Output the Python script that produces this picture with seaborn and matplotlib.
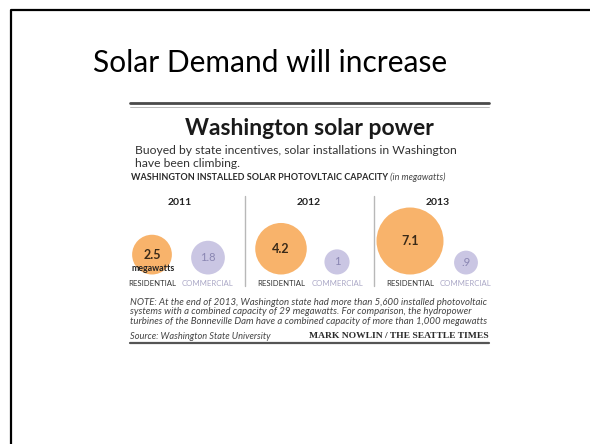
"""
Slide: Solar Demand will increase
Recreates the Seattle Times "Washington solar power" bubble graphic.
"""

import numpy as np
import pandas as pd
import matplotlib
matplotlib.use("Agg")
import matplotlib.pyplot as plt
import seaborn as sns

sns.set_theme(style="white")
plt.rcParams["font.family"] = ["Lato", "DejaVu Sans"]

# ============================================================
# DATA
# ============================================================
years = ["2011", "2012", "2013"]
residential = [2.5, 4.2, 7.1]
commercial = [1.8, 1.0, 0.9]
residential_labels = ["2.5", "4.2", "7.1"]
commercial_labels = ["1.8", "1", ".9"]

slide_title = "Solar Demand will increase"
graphic_title = "Washington solar power"
intro = ["Buoyed by state incentives, solar installations in Washington",
         "have been climbing."]
caps_line = "WASHINGTON INSTALLED SOLAR PHOTOVLTAIC CAPACITY"
caps_unit = " (in megawatts)"
note = ["NOTE: At the end of 2013, Washington state had more than 5,600 installed photovoltaic",
        "systems with a combined capacity of 29 megawatts. For comparison, the hydropower",
        "turbines of the Bonneville Dam have a combined capacity of more than 1,000 megawatts"]
source = "Source: Washington State University"
credit = "MARK NOWLIN / THE SEATTLE TIMES"

# ============================================================
# LAYOUT (pixel coordinates, y down)
# ============================================================
W, H, DPI = 590, 444, 100
G_LEFT, G_RIGHT = 130, 489
group_x0, group_step, pair_offset = 180, 129, 28
baseline = 274.5
r_max = 33.5

ORANGE = "#f8b36b"
LAVENDER = "#cac6e3"

df = pd.DataFrame({
    "year": years * 2,
    "type": ["Residential"] * 3 + ["Commercial"] * 3,
    "value": residential + commercial,
    "label": residential_labels + commercial_labels,
})
df["group"] = list(range(len(years))) * 2
df["px"] = group_x0 + group_step * df["group"] + np.where(df["type"] == "Residential", -pair_offset, pair_offset)
vmax = max(residential + commercial)
df["radius"] = r_max * np.sqrt(df["value"] / vmax)
df["py"] = baseline - df["radius"]

fig = plt.figure(figsize=(W / DPI, H / DPI), dpi=DPI)
ax = fig.add_axes([0, 0, 1, 1])
ax.set_xlim(0, W)
ax.set_ylim(H, 0)
ax.axis("off")

# slide frame
ax.plot([11, 11, W], [H, 10, 10], color="black", lw=1.6, solid_capstyle="butt")

ax.text(270, 63, slide_title, ha="center", va="center", fontsize=21.5, color="black")

# rules
ax.plot([G_LEFT, G_RIGHT], [103, 103], color="#4a4a4a", lw=2.0)
ax.plot([G_LEFT, G_RIGHT], [107, 107], color="#b0b0b0", lw=0.6)
ax.plot([G_LEFT, G_RIGHT], [343, 343], color="#555555", lw=1.6)

ax.text(309, 128, graphic_title, ha="center", va="center", fontsize=16.5,
        fontweight="bold", color="#1a1a1a")
for i, line in enumerate(intro):
    ax.text(G_LEFT + 5, 150 + 13 * i, line, ha="left", va="center", fontsize=8.7, color="#333333")

t = ax.text(G_LEFT + 1, 177, caps_line, ha="left", va="center", fontsize=6.5,
            fontweight="bold", color="#2a2a2a")
fig.canvas.draw()
bb = t.get_window_extent().transformed(ax.transData.inverted())
ax.text(bb.x1, 177, caps_unit, ha="left", va="center", fontsize=6.5,
        style="italic", color="#444444")

# year headers and separators
for i, y in enumerate(years):
    ax.text(group_x0 + group_step * i, 202, y, ha="center", va="center",
            fontsize=7.5, fontweight="bold", color="#222222")
for i in range(1, len(years)):
    xs = group_x0 + group_step * (i - 0.5)
    ax.plot([xs, xs], [196, 286], color="#b8b8b8", lw=1.0)

# bubbles: area proportional to capacity
smax = (2 * r_max * 72 / DPI) ** 2
sns.scatterplot(data=df, x="px", y="py", hue="type", size="value",
                palette={"Residential": ORANGE, "Commercial": LAVENDER},
                sizes=(0, smax), size_norm=(0, vmax), edgecolor="none",
                legend=False, ax=ax, zorder=2)
ax.set_xlim(0, W)
ax.set_ylim(H, 0)
ax.set_xlabel("")
ax.set_ylabel("")

for _, row in df.iterrows():
    res = row["type"] == "Residential"
    ax.text(row["px"], row["py"], row["label"], ha="center", va="center",
            fontsize=9 if res else 8, fontweight="bold" if res else "normal",
            color="#3a2a18" if res else "#8a86b2", zorder=3)
    ax.text(row["px"], 283, row["type"].upper(), ha="center", va="center",
            fontsize=5.6, color="#333333" if res else "#aaa7c6", zorder=3)
first = df.iloc[0]
ax.text(first["px"] + 1, 268, "megawatts", ha="center", va="center",
        fontsize=6.3, fontweight="bold", color="#222222", zorder=3)

for i, line in enumerate(note):
    ax.text(G_LEFT, 302 + 9.5 * i, line, ha="left", va="center", fontsize=6.9,
            style="italic", color="#444444")
ax.text(G_LEFT, 336, source, ha="left", va="center", fontsize=6.7,
        style="italic", color="#444444")
ax.text(G_RIGHT, 336, credit, ha="right", va="center", fontsize=6.8,
        fontweight="bold", family=["Liberation Serif"], color="#2a2a2a")

fig.savefig("out.png", dpi=DPI)
